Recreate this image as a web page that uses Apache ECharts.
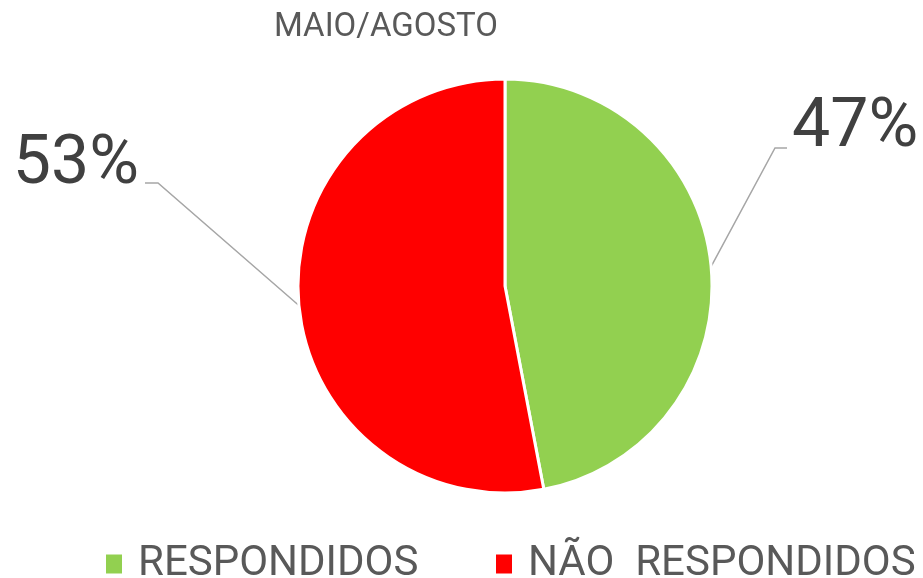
<!DOCTYPE html>
<html>
<head>
<meta charset="utf-8">
<script src="https://cdn.jsdelivr.net/npm/echarts@6/dist/echarts.min.js"></script>
<style>
  html, body { margin: 0; padding: 0; background: #fff; }
  #chart { width: 923px; height: 578px; }
</style>
</head>
<body>
<div id="chart"></div>
<script>
// dados do gráfico
const titulo = 'MAIO/AGOSTO';
const categorias = ['RESPONDIDOS', 'NÃO  RESPONDIDOS'];
const valores = [47, 53];
const cores = ['#92D050', '#FF0000'];

const chart = echarts.init(document.getElementById('chart'));

// posição dos rótulos (lado direito / esquerdo)
const rotulos = [
  { x: 792, y: 129, align: 'left', elbow: [775, 148], end: [787, 148] },
  { x: 139, y: 166, align: 'right', elbow: [158, 183], end: [145, 183] }
];

// uma legenda por item, para controlar a posição de cada uma
const legendaLeft = [99, 489];
const legendas = categorias.map((nome, i) => ({
  left: legendaLeft[i],
  top: 538,
  itemWidth: 18,
  itemHeight: 21,
  icon: 'rect',
  textStyle: {
    color: '#595959',
    fontSize: 42,
    fontFamily: 'Roboto',
    padding: [0, 0, 0, 10]
  },
  data: [nome]
}));

chart.setOption({
  animation: false,
  title: {
    text: titulo,
    left: 269,
    top: 6,
    textStyle: { color: '#595959', fontSize: 33, fontWeight: 'normal', fontFamily: 'Roboto' }
  },
  legend: legendas,
  series: [{
    type: 'pie',
    center: [505, 286],
    radius: 207,
    startAngle: 90,
    clockwise: true,
    itemStyle: { borderColor: '#fff', borderWidth: 3 },
    label: {
      show: true,
      formatter: '{d}%',
      color: '#404040',
      fontSize: 68,
      fontFamily: 'Roboto'
    },
    labelLine: {
      show: true,
      lineStyle: { color: '#A6A6A6', width: 1.5 }
    },
    labelLayout: function (params) {
      const r = rotulos[params.dataIndex];
      const start = params.labelLinePoints ? params.labelLinePoints[0] : null;
      const out = { x: r.x, y: r.y, align: r.align, verticalAlign: 'middle' };
      if (start) out.labelLinePoints = [start, r.elbow, r.end];
      return out;
    },
    emphasis: { disabled: true },
    data: categorias.map((nome, i) => ({
      name: nome,
      value: valores[i],
      itemStyle: { color: cores[i] }
    }))
  }]
});
</script>
</body>
</html>
